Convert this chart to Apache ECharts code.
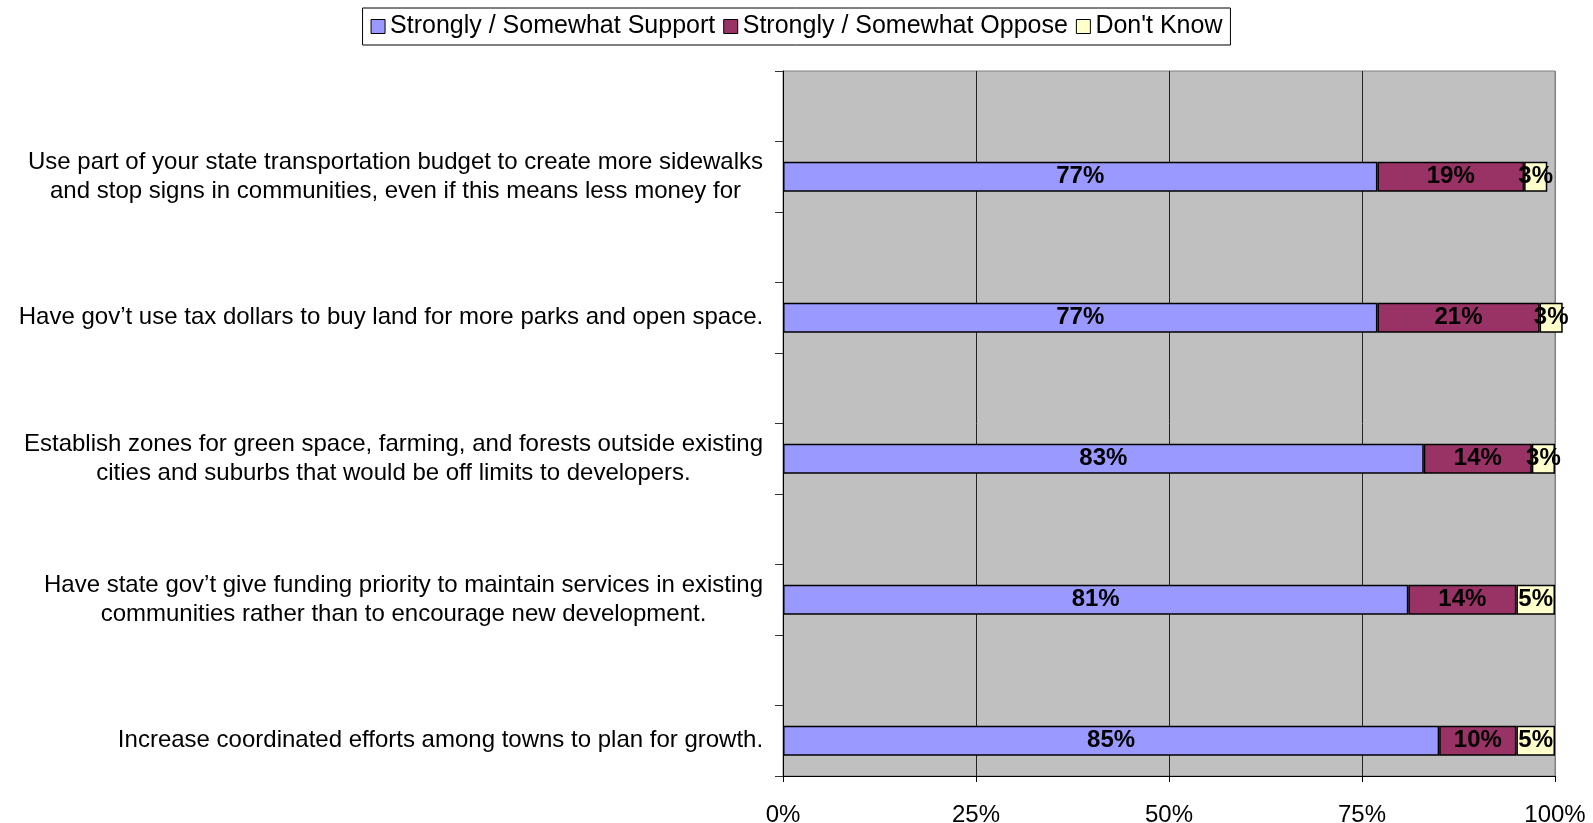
<!DOCTYPE html>
<html>
<head>
<meta charset="utf-8">
<script src="https://cdn.jsdelivr.net/npm/echarts@6/dist/echarts.min.js"></script>
<style>
  html, body { margin: 0; padding: 0; background: #fff; }
  #chart { width: 1593px; height: 823px; }
</style>
</head>
<body>
<div id="chart"></div>
<script>
// Survey statements, top to bottom
const questions = [
  'Use part of your state transportation budget to create more sidewalks\nand stop signs in communities, even if this means less money for',
  'Have gov\u2019t use tax dollars to buy land for more parks and open space.',
  'Establish zones for green space, farming, and forests outside existing\ncities and suburbs that would be off limits to developers.',
  'Have state gov\u2019t give funding priority to maintain services in existing\ncommunities rather than to encourage new development.',
  'Increase coordinated efforts among towns to plan for growth.'
];
const seriesNames = ['Strongly / Somewhat Support', 'Strongly / Somewhat Oppose', "Don't Know"];
const support  = [77, 77, 83, 81, 85];
const oppose   = [19, 21, 14, 14, 10];
const dontKnow = [3, 3, 3, 5, 5];
const xTicks = [0, 25, 50, 75, 100];

const FONT = 'Arial, "Liberation Sans", sans-serif';
const LABEL_SIZE = 24;

// Each statement gets its own row followed by an empty spacer row;
// the category axis runs bottom-up, so build it from the last statement.
const axisCats = [];
const rowOf = [];
for (let i = questions.length - 1; i >= 0; i--) {
  axisCats.push('q' + i);
  rowOf.push(i);
  axisCats.push('gap' + i);
  rowOf.push(-1);
}
function column(values) {
  return rowOf.map(r => (r < 0 ? '-' : values[r]));
}

// Multi-line statements are centred within their own block: measure each
// block's widest line so a rich style can centre the lines inside it.
const measure = document.createElement('canvas').getContext('2d');
measure.font = LABEL_SIZE + 'px ' + FONT;
const rich = {};
questions.forEach((q, i) => {
  const w = Math.max(...q.split('\n').map(s => measure.measureText(s).width));
  rich['r' + i] = {
    width: Math.ceil(w) + 1, align: 'center', fontSize: LABEL_SIZE,
    fontFamily: FONT, color: '#000', lineHeight: 29
  };
});

const colors = ['#9999FF', '#993366', '#FFFFCC'];
const barLabel = {
  show: true, position: 'inside', color: '#000', fontFamily: FONT,
  fontWeight: 'bold', fontSize: 24,
  formatter: p => p.value + '%'
};
const seriesData = [support, oppose, dontKnow];

const chart = echarts.init(document.getElementById('chart'), null, { renderer: 'canvas' });
chart.setOption({
  animation: false,
  textStyle: { fontFamily: FONT },
  legend: {
    top: 8, left: 'center',
    data: seriesNames,
    icon: 'rect',
    borderColor: '#000', borderWidth: 1, padding: [6, 8],
    itemWidth: 14, itemHeight: 14, itemGap: 8,
    textStyle: { fontSize: 25, color: '#000', fontFamily: FONT },
    itemStyle: { borderColor: '#000', borderWidth: 1 }
  },
  grid: {
    left: 783, right: 38, top: 71, bottom: 47,
    outerBoundsMode: 'none',
    show: true, backgroundColor: '#C0C0C0', borderColor: '#808080', borderWidth: 1
  },
  xAxis: {
    type: 'value', min: 0, max: 100, interval: 25,
    axisLine: { show: true, lineStyle: { color: '#000', width: 1 } },
    axisTick: { show: true, length: 6, lineStyle: { color: '#000' } },
    axisLabel: {
      margin: 27, fontSize: 24, color: '#000', fontFamily: FONT,
      formatter: v => (xTicks.includes(v) ? v + '%' : '')
    },
    splitLine: { show: true, lineStyle: { color: ['#000', '#222', '#222', '#222', '#808080'], width: 1 } }
  },
  yAxis: {
    type: 'category', data: axisCats,
    axisLine: { show: true, lineStyle: { color: '#000', width: 1 } },
    axisTick: { show: true, length: 8, lineStyle: { color: '#333' } },
    axisLabel: {
      margin: 19, interval: 0, align: 'right',
      formatter: (v) => {
        if (v.indexOf('q') !== 0) return '';
        const i = +v.slice(1);
        return questions[i].split('\n').map(s => '{r' + i + '|' + s + '}').join('\n');
      },
      rich: rich
    }
  },
  series: seriesNames.map((name, k) => ({
    name: name, type: 'bar', stack: 'total', barWidth: 30, clip: false,
    data: column(seriesData[k]),
    itemStyle: { color: colors[k], borderColor: '#000', borderWidth: 1.5 },
    label: barLabel
  }))
});
</script>
</body>
</html>
